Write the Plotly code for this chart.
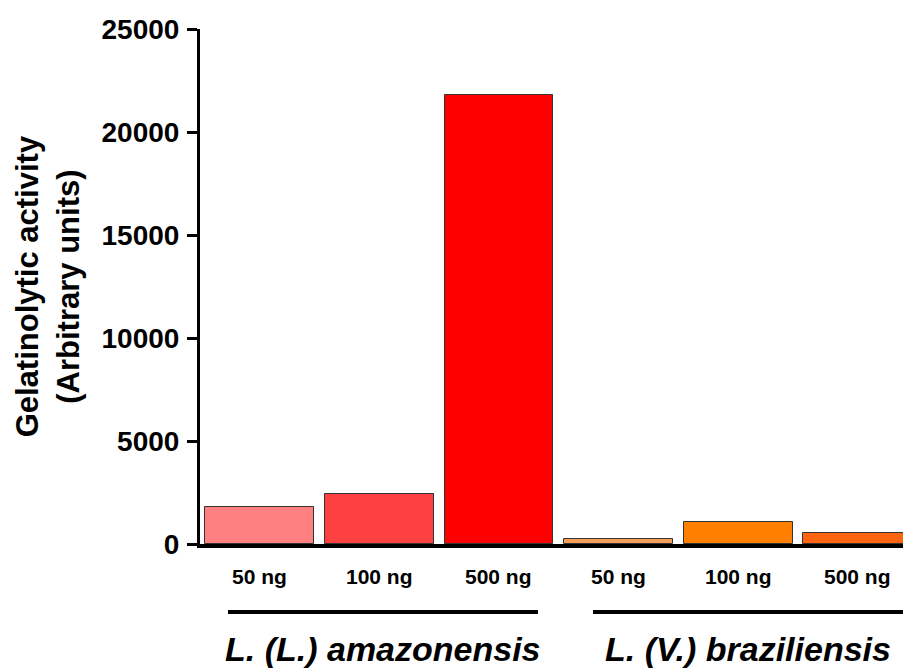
import plotly.graph_objects as go

dose_labels = ["50 ng", "100 ng", "500 ng", "50 ng", "100 ng", "500 ng"]
values = [1780, 2430, 21800, 240, 1080, 540]
bar_colors = ["#FF8080", "#FF4040", "#FF0000", "#F5A05A", "#FF8000", "#FF6410"]
groups = ["<i>L. (L.) amazonensis</i>", "<i>L. (V.) braziliensis</i>"]
group_spans = [(-0.266, 2.326), (2.786, 5.378)]
y_ticks = [0, 5000, 10000, 15000, 20000, 25000]

xpos = list(range(len(values)))
font_family = "Liberation Sans, Arial, sans-serif"

fig = go.Figure()
fig.add_trace(go.Bar(
    x=xpos, y=values, width=0.91,
    marker=dict(color=bar_colors, line=dict(color="#333333", width=1)),
))

# dose labels under each bar
for x, lab in zip(xpos, dose_labels):
    fig.add_annotation(x=x, xref="x", y=-0.064, yref="paper", text="<b>" + lab + "</b>",
                       showarrow=False, yanchor="middle",
                       font=dict(size=21, color="black", family=font_family))

# group bars and labels
for (x0, x1), g in zip(group_spans, groups):
    fig.add_shape(type="line", xref="x", yref="paper", x0=x0, x1=x1, y0=-0.132, y1=-0.132,
                  line=dict(color="black", width=4))
    fig.add_annotation(x=(x0 + x1) / 2, xref="x", y=-0.204, yref="paper", text="<b>" + g + "</b>",
                       showarrow=False, yanchor="middle",
                       font=dict(size=34, color="black", family=font_family))

fig.add_annotation(x=-0.214, xref="paper", y=0.5, yref="paper",
                   text="<b>Gelatinolytic activity<br>(Arbitrary units)</b>",
                   textangle=-90, showarrow=False, xanchor="center", yanchor="middle",
                   font=dict(size=31, color="black", family=font_family))

fig.update_layout(
    width=903, height=661,
    margin=dict(l=192, r=0, t=21, b=125),
    plot_bgcolor="white", paper_bgcolor="white",
    showlegend=False,
    font=dict(family=font_family, color="black"),
    bargap=0,
)
fig.update_xaxes(
    range=[-0.5, 5.445], tickvals=xpos, showticklabels=False, ticks="",
    showline=True, linecolor="black", linewidth=4, showgrid=False, zeroline=False,
)
fig.update_yaxes(
    range=[0, 25000], tickvals=y_ticks,
    ticktext=["<b>" + str(v) + "</b>" for v in y_ticks],
    tickfont=dict(size=28), ticks="outside", ticklen=10, tickwidth=3, tickcolor="black",
    ticklabelstandoff=2,
    showline=True, linecolor="black", linewidth=3, showgrid=False, zeroline=False,
)

fig.write_html("out.html")
